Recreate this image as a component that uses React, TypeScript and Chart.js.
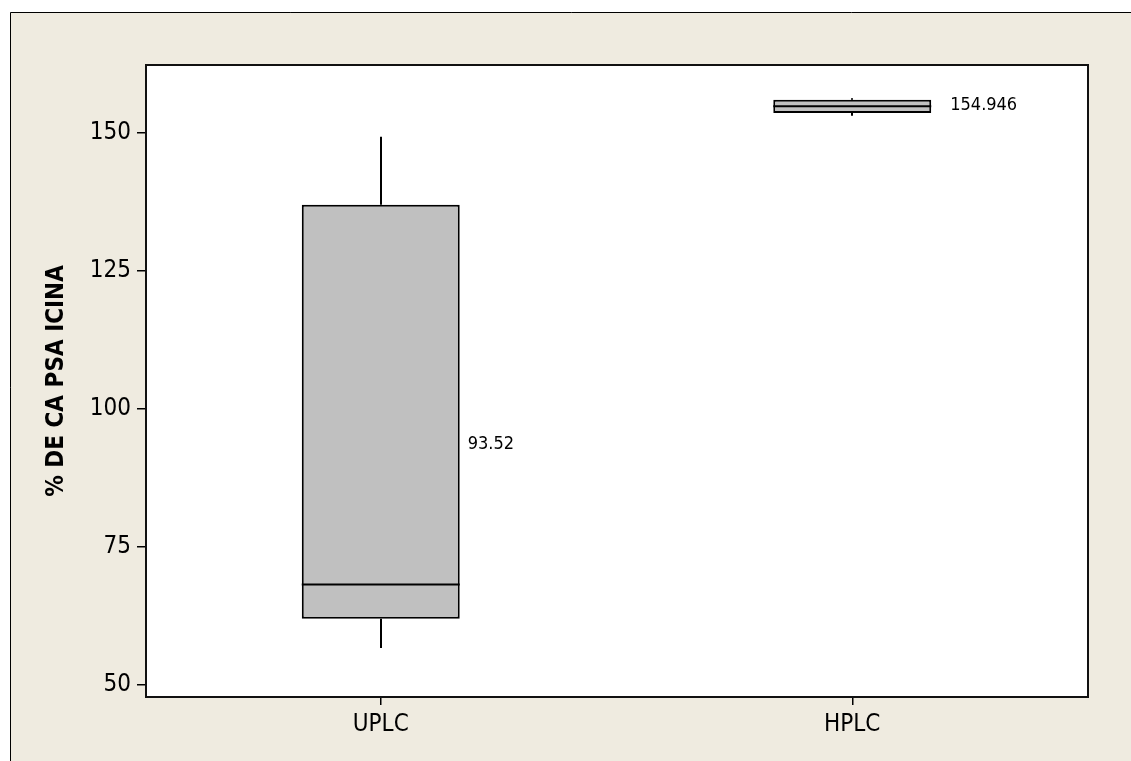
import { useEffect, useRef } from 'react';
import { Chart, registerables } from 'chart.js';

Chart.register(...registerables);

const categories = ['UPLC', 'HPLC'];
const whiskerLow = [56.7, 153.1];
const q1 = [62.0, 153.6];
const median = [68.2, 154.85];
const q3 = [137.0, 156.0];
const whiskerHigh = [149.3, 156.3];
const meanValues = [93.52, 154.946];
const meanLabels = ['93.52', '154.946'];
const yTicks = [50, 75, 100, 125, 150];
const yTitle = '% DE CA PSA ICINA';

const FONT = "'DejaVu Sans Condensed', 'DejaVu Sans', sans-serif";

const framePlugin = {
  id: 'framePlugin',
  beforeDraw(chart: any) {
    const ctx = chart.ctx;
    const { left, top, right, bottom } = chart.chartArea;
    ctx.save();
    ctx.fillStyle = '#ffffff';
    ctx.fillRect(0, 0, chart.width, chart.height);
    ctx.fillStyle = '#EFEBE0';
    ctx.fillRect(10, 12, chart.width, chart.height);
    ctx.strokeStyle = '#000000';
    ctx.lineWidth = 1;
    ctx.beginPath();
    ctx.moveTo(10.5, chart.height + 5);
    ctx.lineTo(10.5, 12.5);
    ctx.lineTo(chart.width + 5, 12.5);
    ctx.stroke();
    ctx.fillStyle = '#ffffff';
    ctx.fillRect(left, top, right - left, bottom - top);
    ctx.restore();
  },
  afterDatasetsDraw(chart: any, _args: any, opts: any) {
    const ctx = chart.ctx;
    const y = chart.scales.y;
    const meta = chart.getDatasetMeta(0);
    const gaps: number[] = opts.labelGaps || [8, 8];
    ctx.save();
    ctx.strokeStyle = '#000000';
    ctx.lineWidth = 2;
    meta.data.forEach((bar: any, i: number) => {
      const x = Math.round(bar.x);
      const half = bar.width / 2;
      ctx.beginPath();
      ctx.moveTo(x, y.getPixelForValue(whiskerHigh[i]));
      ctx.lineTo(x, y.getPixelForValue(q3[i]));
      ctx.moveTo(x, y.getPixelForValue(q1[i]));
      ctx.lineTo(x, y.getPixelForValue(whiskerLow[i]));
      const my = y.getPixelForValue(median[i]);
      ctx.moveTo(bar.x - half, my);
      ctx.lineTo(bar.x + half, my);
      ctx.stroke();
      ctx.fillStyle = '#000000';
      ctx.font = `18px ${FONT}`;
      ctx.textAlign = 'left';
      ctx.textBaseline = 'middle';
      ctx.fillText(meanLabels[i], bar.x + half + gaps[i], y.getPixelForValue(meanValues[i]));
    });
    ctx.restore();
  },
  afterDraw(chart: any) {
    const ctx = chart.ctx;
    const { left, top, right, bottom } = chart.chartArea;
    ctx.save();
    ctx.strokeStyle = '#111111';
    ctx.lineWidth = 2;
    ctx.strokeRect(left + 1, top, right - left - 1, bottom - top);
    ctx.restore();
  },
};

export default function App() {
  const ref = useRef<HTMLCanvasElement>(null);
  useEffect(() => {
    if (!ref.current) return;
    const chart = new Chart(ref.current, {
      type: 'bar',
      data: {
        labels: categories,
        datasets: [
          {
            label: 'box',
            data: categories.map((_, i) => [q1[i], q3[i]]) as any,
            backgroundColor: '#C0C0C0',
            borderColor: '#000000',
            borderWidth: 2,
            borderSkipped: false,
            barPercentage: 0.335,
            categoryPercentage: 1,
          },
        ],
      },
      options: {
        responsive: false,
        animation: false,
        layout: { padding: { left: 0, top: 65, right: 43, bottom: 0 } },
        plugins: {
          legend: { display: false },
          tooltip: { enabled: false },
          framePlugin: { labelGaps: [8, 19] },
        } as any,
        scales: {
          x: {
            offset: true,
            border: { display: false },
            grid: { display: true, offset: false, drawOnChartArea: false, drawTicks: true, tickLength: 8, color: '#000000', lineWidth: 1.5 },
            ticks: { color: '#000000', font: { family: FONT, size: 24 }, padding: 5 },
            afterFit(scale: any) {
              scale.height = 64;
            },
          },
          y: {
            min: 47.83,
            max: 162.3,
            border: { display: false },
            grid: { display: true, drawOnChartArea: false, drawTicks: true, tickLength: 8, color: '#000000', lineWidth: 1.5 },
            ticks: { color: '#000000', font: { family: FONT, size: 24 }, padding: 6 },
            afterBuildTicks(scale: any) {
              scale.ticks = yTicks.map((v) => ({ value: v }));
            },
            afterFit(scale: any) {
              scale.width = 145;
            },
            title: {
              display: true,
              text: yTitle,
              color: '#000000',
              font: { family: FONT, size: 24, weight: 'bold' },
              padding: { top: 42, bottom: 0 },
            },
          },
        },
      },
      plugins: [framePlugin],
    });
    return () => chart.destroy();
  }, []);
  return (
    <div style={{ position: 'fixed', left: 0, top: 0, width: 1131, height: 761 }}>
      <canvas ref={ref} width={1131} height={761} style={{ display: 'block' }} />
    </div>
  );
}
